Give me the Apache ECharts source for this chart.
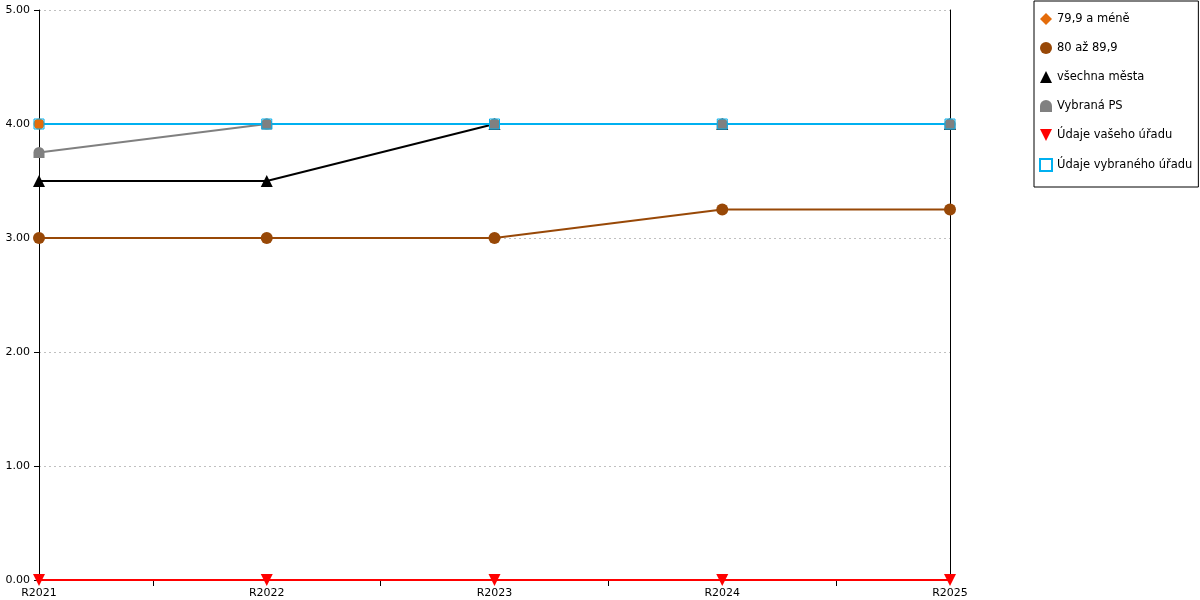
<!DOCTYPE html>
<html>
<head>
<meta charset="utf-8">
<script src="https://cdn.jsdelivr.net/npm/echarts@6/dist/echarts.min.js"></script>
<style>
  html, body { margin: 0; padding: 0; background: #fff; }
  #chart { width: 1200px; height: 600px; }
</style>
</head>
<body>
<div id="chart"></div>
<script>
var categories = ['R2021', 'R2022', 'R2023', 'R2024', 'R2025'];
var midTicks = [0.5, 1.5, 2.5, 3.5];

var do799 = [4, 4, 4, 4, 4];            // 79,9 a méně
var od80do899 = [3, 3, 3, 3.25, 3.25];  // 80 až 89,9
var vsechnaMesta = [3.5, 3.5, 4, 4, 4];
var vybranaPS = [3.75, 4, 4, 4, 4];
var vasUrad = [0, 0, 0, 0, 0];
var vybranyUrad = [4, 4, 4, 4, 4];

var house = 'path://M0,10 L0,5 A5,5 0 0 1 10,5 L10,10 Z';
var downTri = 'path://M0,0 L10,0 L5,10 Z';

var chartDom = document.getElementById('chart');
var myChart = echarts.init(chartDom);
var font = 'DejaVu Sans';

function line(name, data, color, symbol, size) {
  return {
    name: name,
    type: 'line',
    data: data,
    symbol: symbol,
    symbolSize: size,
    showAllSymbol: true,
    lineStyle: { color: color, width: 2 },
    itemStyle: { color: color }
  };
}

var option = {
  backgroundColor: '#fff',
  animation: false,
  grid: { left: 39, right: 250, top: 10, bottom: 20 },
  legend: {
    orient: 'vertical',
    left: 1034,
    top: 1,
    padding: [12, 6, 15, 5],
    itemGap: 17,
    itemWidth: 12,
    itemHeight: 12,
    borderColor: '#000',
    borderWidth: 1,
    borderRadius: 0,
    textStyle: { fontFamily: font, fontSize: 11.5, color: '#000' },
    data: [
      { name: '79,9 a méně', icon: 'diamond' },
      { name: '80 až 89,9', icon: 'circle' },
      { name: 'všechna města', icon: 'triangle' },
      { name: 'Vybraná PS', icon: house },
      { name: 'Údaje vašeho úřadu', icon: downTri },
      { name: 'Údaje vybraného úřadu', icon: 'rect' }
    ]
  },
  xAxis: [
    {
      type: 'category',
      data: categories,
      boundaryGap: false,
      axisLine: { lineStyle: { color: '#000' } },
      axisTick: { show: false },
      axisLabel: { fontFamily: font, fontSize: 11, color: '#000', margin: 8 },
      splitLine: { show: false }
    },
    {
      type: 'value',
      position: 'bottom',
      min: 0,
      max: 4,
      axisLine: { show: false },
      axisLabel: { show: false },
      splitLine: { show: false },
      axisTick: { show: true, customValues: midTicks, length: 6, lineStyle: { color: '#000' } }
    }
  ],
  yAxis: [
    {
      type: 'value',
      min: 0,
      max: 5,
      interval: 1,
      axisLine: { show: true, lineStyle: { color: '#000' } },
      axisTick: { show: true, length: 5, lineStyle: { color: '#000' } },
      axisLabel: {
        fontFamily: font, fontSize: 11, color: '#000', margin: 9,
        formatter: function (v) { return v.toFixed(2); }
      },
      splitLine: { show: true, lineStyle: { color: '#c0c0c0', type: [2, 3], width: 1 } }
    },
    {
      type: 'value',
      position: 'right',
      min: 0,
      max: 5,
      axisLine: { show: true, lineStyle: { color: '#000' } },
      axisTick: { show: false },
      axisLabel: { show: false },
      splitLine: { show: false }
    }
  ],
  series: [
    line('79,9 a méně', do799, '#e46c0a', 'circle', 11),
    line('80 až 89,9', od80do899, '#984807', 'circle', 12),
    line('všechna města', vsechnaMesta, '#000000', 'triangle', 12),
    line('Vybraná PS', vybranaPS, '#808080', house, 11),
    line('Údaje vašeho úřadu', vasUrad, '#ff0000', downTri, 12),
    {
      name: 'Údaje vybraného úřadu',
      type: 'line',
      data: vybranyUrad,
      symbol: 'rect',
      symbolSize: 10,
      showAllSymbol: true,
      lineStyle: { color: '#00b0f0', width: 2 },
      itemStyle: { color: 'rgba(255,255,255,0)', borderColor: '#00b0f0', borderWidth: 1 }
    }
  ]
};
option && myChart.setOption(option);
</script>
</body>
</html>
